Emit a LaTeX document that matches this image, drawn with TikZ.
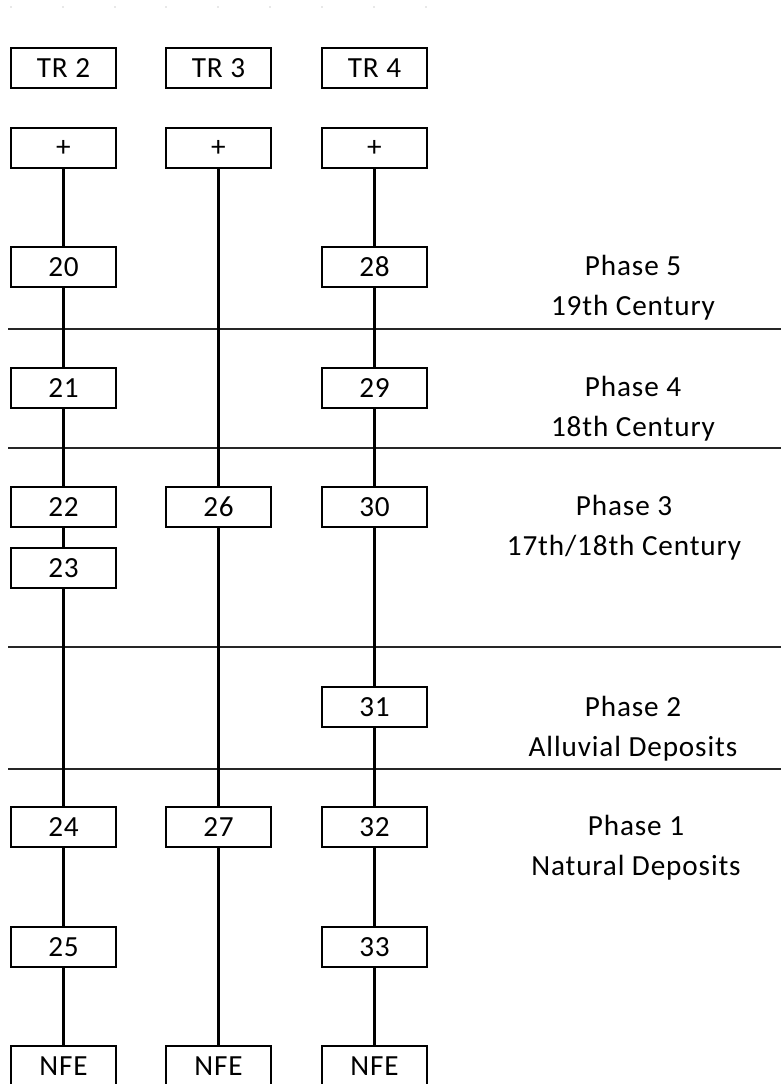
\documentclass[tikz,border=0pt]{standalone}
\usepackage{fontspec}
\setmainfont{Carlito}[LetterSpace=3]

\begin{document}
\begin{tikzpicture}[
    x=0.5pt,
    y=-0.5pt,
    every node/.style={font=\fontsize{14.6}{20}\selectfont},
    ctx/.style={draw=black, line width=1pt, minimum width=52.5pt, minimum height=20pt, inner sep=0pt},
    link/.style={draw=black, line width=1.3pt},
    divider/.style={draw=black!85, line width=0.7pt},
    phase/.style={align=center, inner sep=0pt}
  ]
    \useasboundingbox (0,0) rectangle (781,1084);

    \foreach \x in {11,63,115,166,218,270,322,374,426} {
      \fill[black!12] (\x,7) circle [radius=0.6pt];
    }

    % phase dividers
    \foreach \y in {329,448,647,769} {
      \draw[divider] (8,\y) -- (781,\y);
    }

    % trench heads
    \node[ctx] (tr2) at (63.5,68) {TR 2};
    \node[ctx] (tr3) at (218.5,68) {TR 3};
    \node[ctx] (tr4) at (374.5,68) {TR 4};

    \node[ctx] (top2) at (63.5,148) {+};
    \node[ctx] (top3) at (218.5,148) {+};
    \node[ctx] (top4) at (374.5,148) {+};

    % TR 2
    \node[ctx] (c20) at (63.5,267) {20};
    \node[ctx] (c21) at (63.5,388) {21};
    \node[ctx] (c22) at (63.5,507) {22};
    \node[ctx] (c23) at (63.5,568) {23};
    \node[ctx] (c24) at (63.5,827) {24};
    \node[ctx] (c25) at (63.5,947) {25};
    \node[ctx] (nfe2) at (63.5,1066) {NFE};

    % TR 3
    \node[ctx] (c26) at (218.5,507) {26};
    \node[ctx] (c27) at (218.5,827) {27};
    \node[ctx] (nfe3) at (218.5,1066) {NFE};

    % TR 4
    \node[ctx] (c28) at (374.5,267) {28};
    \node[ctx] (c29) at (374.5,388) {29};
    \node[ctx] (c30) at (374.5,507) {30};
    \node[ctx] (c31) at (374.5,707) {31};
    \node[ctx] (c32) at (374.5,827) {32};
    \node[ctx] (c33) at (374.5,947) {33};
    \node[ctx] (nfe4) at (374.5,1066) {NFE};

    \draw[link] (top2) -- (c20) -- (c21) -- (c22) -- (c23) -- (c24) -- (c25) -- (nfe2);
    \draw[link] (top3) -- (c26) -- (c27) -- (nfe3);
    \draw[link] (top4) -- (c28) -- (c29) -- (c30) -- (c31) -- (c32) -- (c33) -- (nfe4);

    % phase labels
    \node[phase] (ph5) at (633,288) {Phase 5\\19th Century};
    \node[phase] (ph4) at (633,409) {Phase 4\\18th Century};
    \node[phase] (ph3) at (624,528) {Phase 3\\17th/18th Century};
    \node[phase] (ph2) at (633,729) {Phase 2\\Alluvial Deposits};
    \node[phase] (ph1) at (636,848) {Phase 1\\Natural Deposits};
  \end{tikzpicture}
\end{document}
